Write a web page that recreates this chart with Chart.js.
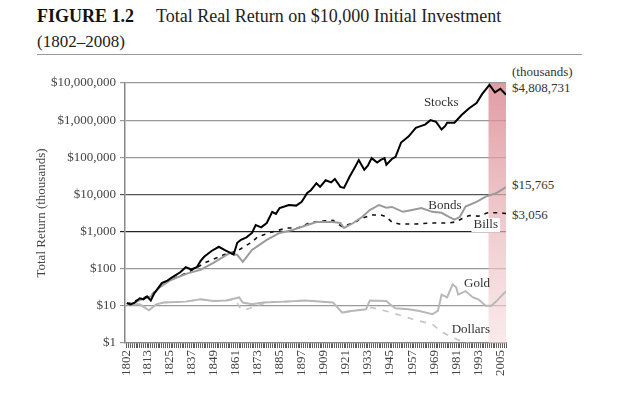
<!DOCTYPE html>
<html>
<head>
<meta charset="utf-8">
<script src="https://cdn.jsdelivr.net/npm/chart.js@4.4.1/dist/chart.umd.min.js"></script>
<style>
    body { margin: 0; background: #fff; }
    #page { position: relative; width: 640px; height: 399px; font-family: 'Liberation Serif', serif; color: #222; overflow: hidden; }
    #title { position: absolute; left: 37px; top: 4px; font-size: 18px; line-height: 25px; white-space: nowrap; }
    #title b { margin-right: 22px; color: #111; }
    #title .sub { font-size: 17px; }
    #rule { position: absolute; left: 37px; top: 54px; width: 545px; border-top: 1.5px solid #999; }
    .end-label { position: absolute; left: 512px; font-size: 13px; line-height: 16px; color: #333; white-space: nowrap; }
    #chart-box { position: absolute; left: 0; top: 60px; width: 640px; height: 339px; }
</style>
</head>
<body>
<div id="page">
    <div id="title"><b>FIGURE 1.2</b>Total Real Return on $10,000 Initial Investment<br><span class="sub">(1802–2008)</span></div>
    <div id="rule"></div>
    <div class="end-label" style="top:64px">(thousands)</div>
    <div class="end-label" style="top:80px">$4,808,731</div>
    <div class="end-label" style="top:177px">$15,765</div>
    <div class="end-label" style="top:207px">$3,056</div>
    <div id="chart-box"><canvas id="return-chart"></canvas></div>
</div>
<script>
// x axis
const firstYear = 1801;
const lastYear = 2008;
const xTickLabels = [1802, 1813, 1825, 1837, 1849, 1861, 1873, 1885, 1897, 1909, 1921, 1933, 1945, 1957, 1969, 1981, 1993, 2005];
const yTickValues = [1, 10, 100, 1000, 10000, 100000, 1000000, 10000000];
const shadeStartYear = 1998.5;

// Stocks
const stockYears = [1802, 1804, 1806, 1809, 1811, 1813, 1815, 1817, 1819, 1821, 1824, 1827, 1831, 1834, 1837, 1840, 1842, 1844, 1848, 1852,
    1855, 1858, 1860, 1862, 1864, 1867, 1870, 1872, 1875, 1878, 1881, 1883, 1885, 1888, 1890, 1894, 1897, 1900, 1902, 1905,
    1907, 1910, 1913, 1915, 1918, 1920, 1923, 1926, 1928, 1931, 1933, 1935, 1938, 1940, 1942, 1943, 1946, 1948, 1951, 1955,
    1959, 1962, 1964, 1967, 1970, 1973, 1975, 1976, 1980, 1984, 1988, 1992, 1995, 1999, 2002, 2005, 2008];
const stockValues = [12, 11, 12, 16, 15, 18, 14, 22, 30, 41, 48, 60, 80, 110, 95, 110, 160, 210, 300, 390,
    320, 270, 240, 500, 600, 700, 920, 1500, 1300, 1700, 3400, 3000, 4300, 4800, 5200, 5000, 6300, 11000, 13000, 20000,
    16000, 24000, 21000, 26000, 16000, 15000, 30000, 55000, 84000, 46000, 60000, 95000, 72000, 85000, 95000, 63000, 90000, 103000, 250000, 360000,
    620000, 700000, 760000, 1000000, 900000, 560000, 700000, 850000, 850000, 1400000, 2100000, 2900000, 5000000, 8900000, 5600000, 7000000, 4808731];

// Bonds
const bondYears = [1802, 1806, 1810, 1815, 1820, 1825, 1830, 1835, 1842, 1849, 1858, 1862, 1865, 1870, 1878, 1885, 1892, 1900, 1905,
    1914, 1918, 1920, 1925, 1930, 1934, 1939, 1943, 1946, 1952, 1957, 1962, 1968, 1973, 1977, 1980, 1983, 1986, 1992, 1997, 2003, 2008];
const bondValues = [11, 12, 15, 18, 32, 47, 60, 75, 93, 143, 266, 235, 152, 320, 600, 920, 1100, 1500, 1800,
    1800, 1700, 1250, 1700, 2500, 3800, 5200, 4400, 4600, 3400, 3800, 4300, 3400, 3200, 2500, 2100, 2500, 4700, 6300, 8700, 11000, 15765];

// Bills
const billYears = [1802, 1810, 1815, 1820, 1825, 1830, 1835, 1840, 1845, 1849, 1855, 1858, 1862, 1866, 1870, 1873, 1881, 1889, 1895, 1901,
    1907, 1914, 1919, 1926, 1930, 1935, 1940, 1943, 1946, 1950, 1959, 1968, 1977, 1980, 1984, 1988, 1993, 1998, 2004, 2008];
const billValues = [11, 16, 19, 33, 48, 62, 78, 108, 150, 180, 240, 266, 300, 400, 520, 720, 980, 1250, 1250, 1700,
    1900, 2000, 1350, 1800, 2300, 2800, 2800, 2500, 1800, 1600, 1600, 1700, 1700, 1800, 2200, 2700, 2600, 3200, 3200, 3056];

// Gold
const goldYears = [1802, 1809, 1814, 1818, 1822, 1834, 1842, 1849, 1856, 1863, 1865, 1870, 1876, 1888, 1899, 1914, 1915, 1919, 1924, 1932,
    1934, 1943, 1945, 1948, 1955, 1961, 1968, 1971, 1973, 1976, 1979, 1981, 1982, 1986, 1990, 1993, 1997, 2000, 2003, 2008];
const goldValues = [11, 11, 7.6, 11, 12.3, 13, 15, 13.6, 14, 16.8, 12.3, 11, 12.3, 13, 14, 12.3, 11, 6.6, 7.3, 8.1,
    14, 13.6, 11, 8.6, 8.1, 7.3, 6, 7.3, 20, 16.8, 38, 31, 20, 25, 16.8, 15, 10, 10, 13.6, 25];

// Dollars
const dollarYears = [1802, 1809, 1814, 1818, 1822, 1834, 1842, 1849, 1856, 1861, 1864, 1866, 1870, 1875, 1879, 1888, 1899, 1914, 1915, 1919,
    1924, 1932, 1935, 1946, 1957, 1968, 1973, 1979, 1984, 1990, 2008];
const dollarValues = [11, 11, 7.6, 11, 12.3, 13, 15, 13.6, 14, 15, 8, 7.7, 9, 11, 12.5, 13, 14, 12.3, 11, 6.6,
    7.3, 8.1, 9, 6.6, 4.4, 3.2, 2, 1.4, 1.1, 0.9, 0.6];

// In-plot series names, placed at (year, value)
const seriesNames = ['Stocks', 'Bonds', 'Bills', 'Gold', 'Dollars'];
const nameYears = [1972.8, 1974.8, 1997, 1992.3, 1988.9];
const nameValues = [2900000, 4900, 1500, 39, 2.3];

const toPoints = (years, values) => years.map((year, i) => ({ x: year, y: values[i] }));

const serifFont = (size) => ({ family: "'Liberation Serif', serif", size: size });

const shadePlugin = {
    id: 'shade',
    beforeDatasetsDraw(chart) {
        const { ctx, chartArea, scales } = chart;
        const left = scales.x.getPixelForValue(shadeStartYear);
        const gradient = ctx.createLinearGradient(0, chartArea.top, 0, chartArea.bottom);
        gradient.addColorStop(0, 'rgba(216, 132, 140, 0.8)');
        gradient.addColorStop(1, 'rgba(246, 220, 222, 0.6)');
        ctx.save();
        ctx.fillStyle = gradient;
        ctx.fillRect(left, chartArea.top, chartArea.right - left, chartArea.bottom - chartArea.top);
        ctx.restore();
    }
};

const namesPlugin = {
    id: 'seriesNames',
    afterDatasetsDraw(chart) {
        const { ctx, scales } = chart;
        ctx.save();
        ctx.font = "13px 'Liberation Serif', serif";
        ctx.textAlign = 'center';
        ctx.textBaseline = 'middle';
        seriesNames.forEach((name, i) => {
            const x = scales.x.getPixelForValue(nameYears[i]);
            const y = scales.y.getPixelForValue(nameValues[i]);
            if (name === 'Bills') {
                // the label sits on a white patch in the original
                const w = ctx.measureText(name).width + 4;
                ctx.fillStyle = '#fff';
                ctx.fillRect(x - w / 2, y - 7, w, 14);
            }
            ctx.fillStyle = '#333';
            ctx.fillText(name, x, y);
        });
        ctx.restore();
    }
};

const ctx = document.getElementById('return-chart').getContext('2d');

const returnChart = new Chart(ctx, {
    type: 'line',
    data: {
        datasets: [
            {
                label: 'Stocks',
                data: toPoints(stockYears, stockValues),
                borderColor: '#000',
                borderWidth: 2
            },
            {
                label: 'Bonds',
                data: toPoints(bondYears, bondValues),
                borderColor: '#9a9a9a',
                borderWidth: 2
            },
            {
                label: 'Bills',
                data: toPoints(billYears, billValues),
                borderColor: '#111',
                borderWidth: 1.6,
                borderDash: [4, 5]
            },
            {
                label: 'Gold',
                data: toPoints(goldYears, goldValues),
                borderColor: '#b8b8b8',
                borderWidth: 2
            },
            {
                label: 'Dollars',
                data: toPoints(dollarYears, dollarValues),
                borderColor: '#c4c4c4',
                borderWidth: 1.6,
                borderDash: [6, 7]
            }
        ]
    },
    options: {
        responsive: true,
        maintainAspectRatio: false,
        animation: false,
        layout: {
            padding: { left: 34, right: 134, top: 23, bottom: 0 }
        },
        elements: {
            point: { radius: 0 },
            line: { tension: 0, fill: false }
        },
        plugins: {
            legend: { display: false },
            tooltip: { enabled: false }
        },
        scales: {
            x: {
                type: 'linear',
                min: firstYear,
                max: lastYear,
                afterBuildTicks: (axis) => {
                    const ticks = [];
                    for (let year = 1802; year <= lastYear; year++) {
                        ticks.push({ value: year });
                    }
                    axis.ticks = ticks;
                },
                afterFit: (axis) => {
                    axis.height = 56;
                },
                grid: {
                    drawOnChartArea: false,
                    tickLength: 5,
                    color: '#333',
                    lineWidth: 0.8
                },
                border: { color: '#888', width: 1.2 },
                ticks: {
                    autoSkip: false,
                    minRotation: 90,
                    maxRotation: 90,
                    padding: 2,
                    color: '#444',
                    font: serifFont(13),
                    callback: function(value) {
                        return xTickLabels.includes(value) ? String(value) : '';
                    }
                }
            },
            y: {
                type: 'logarithmic',
                min: 1,
                max: 10000000,
                afterBuildTicks: (axis) => {
                    axis.ticks = yTickValues.map(v => ({ value: v }));
                },
                afterFit: (axis) => {
                    axis.width = 91;
                },
                title: {
                    display: true,
                    text: 'Total Return (thousands)',
                    color: '#444',
                    font: serifFont(13),
                    padding: 0
                },
                grid: {
                    tickLength: 5,
                    color: function(context) {
                        const value = context.tick ? context.tick.value : null;
                        if (value === 1000) return '#222';
                        if (value === 10000) return '#555';
                        return '#999';
                    },
                    lineWidth: 1.2
                },
                border: { color: '#888', width: 1.5 },
                ticks: {
                    padding: 4,
                    color: '#444',
                    font: serifFont(13),
                    callback: function(value) {
                        return '$' + value.toLocaleString('en-US');
                    }
                }
            }
        }
    },
    plugins: [shadePlugin, namesPlugin]
});
</script>
</body>
</html>
